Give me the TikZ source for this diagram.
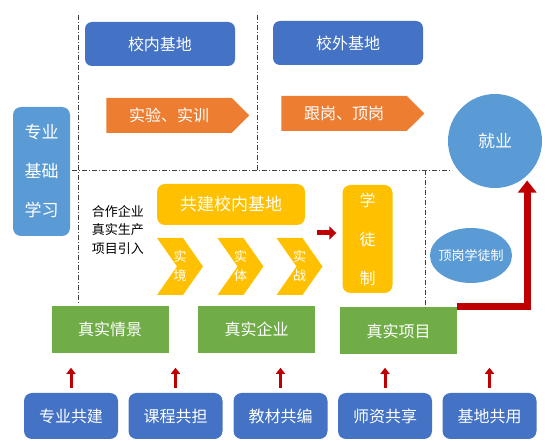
\documentclass[tikz,border=0pt]{standalone}
\usepackage{fontspec}
\setmainfont{Noto Sans CJK SC}
\usepackage{xcolor}
\usepackage{tikz}
\usetikzlibrary{shapes.symbols,shapes.geometric,arrows.meta}
\definecolor{dblue}{HTML}{4472C4}
\definecolor{lblue}{HTML}{5B9BD5}
\definecolor{orng}{HTML}{ED7D31}
\definecolor{ylw}{HTML}{FFC000}
\definecolor{grn}{HTML}{70AD47}
\definecolor{dred}{HTML}{C00000}
\tikzstyle{base} = [rectangle, rounded corners=7pt, minimum width=150pt, minimum height=44pt, text centered, fill=dblue, text=white, font=\fontsize{16}{19}\selectfont]
\tikzstyle{flow} = [signal, signal to=east, signal pointer angle=90, minimum width=143pt, minimum height=35pt, fill=orng, text=white, font=\fontsize{16}{19}\selectfont]
\tikzstyle{study} = [rectangle, rounded corners=8pt, minimum width=57pt, minimum height=129pt, align=center, fill=lblue, text=white, font=\fontsize{17}{39}\selectfont]
\tikzstyle{goal} = [circle, minimum size=94pt, fill=lblue, text=white, font=\fontsize{17}{20}\selectfont]
\tikzstyle{cobuild} = [rectangle, rounded corners=8pt, minimum width=148pt, minimum height=41pt, fill=ylw, text=white, font=\fontsize{17}{20}\selectfont]
\tikzstyle{chev} = [signal, signal to=east, signal from=west, signal pointer angle=110, minimum height=57pt, inner xsep=-3.5pt, inner ysep=0pt, align=center, fill=ylw, text=white, font=\fontsize{13}{19}\selectfont]
\tikzstyle{appr} = [rectangle, rounded corners=8pt, minimum width=50pt, minimum height=108pt, align=center, fill=ylw, text=white, font=\fontsize{16}{39}\selectfont]
\tikzstyle{oval} = [ellipse, minimum width=82pt, minimum height=55pt, inner xsep=-4pt, fill=lblue, text=white, font=\fontsize{13}{16}\selectfont]
\tikzstyle{real} = [rectangle, minimum width=117pt, minimum height=47pt, fill=grn, text=white, font=\fontsize{16}{19}\selectfont]
\tikzstyle{share} = [rectangle, rounded corners=8pt, minimum width=94pt, minimum height=46pt, fill=dblue, text=white, font=\fontsize{16}{19}\selectfont]
\tikzstyle{divider} = [black!75, line width=0.8pt, dash pattern=on 5pt off 2pt on 1pt off 2pt]
\tikzstyle{arrow} = [dred, line width=3pt, -{Triangle[width=9pt,length=6pt]}]
\tikzstyle{midarrow} = [dred, line width=5pt, -{Triangle[width=13pt,length=7pt]}]
\tikzstyle{bigarrow} = [dred, line width=7pt, -{Triangle[width=18pt,length=12pt]}]

\begin{document}
\begin{tikzpicture}[x=1pt, y=-1pt]
        \useasboundingbox (0,0) rectangle (550,441);
        % dividers
        \draw [divider] (78,15) -- (78,304);
        \draw [divider] (257,15) -- (257,170);
        \draw [divider] (72,170) -- (452,170);
        \draw [divider] (425,170) -- (425,305);
        % top part
        \node (base1) [base] at (160,44) {校内基地};
        \node (base2) [base] at (348,43) {校外基地};
        \node (flow1) [flow] at (169,115.5) {实验、实训};
        \node (flow2) [flow] at (344,113.5) {跟岗、顶岗};
        \node (study) [study] at (41.5,171.5) {专业\\基础\\学习};
        \node (jiuye) [goal] at (495,141) {就业};
        % middle part
        \node (intro) [align=center, font=\fontsize{13}{18.5}\selectfont] at (118,230) {合作企业\\真实生产\\项目引入};
        \node (cobuild) [cobuild] at (231,204.5) {共建校内基地};
        \node (chev1) [chev] at (180,266.5) {实\\境};
        \node (chev2) [chev] at (240.5,266.5) {实\\体};
        \node (chev3) [chev] at (299.5,266.5) {实\\战};
        \node (xtz) [appr] at (367.5,239) {学\\徒\\制};
        \node (dgxtz) [oval] at (471,255.5) {顶岗学徒制};
        % real
        \node (real1) [real] at (110,329.5) {真实情景};
        \node (real2) [real] at (256.5,329.5) {真实企业};
        \node (real3) [real] at (398.5,331) {真实项目};
        % shared
        \node (share1) [share] at (71,416) {专业共建};
        \node (share2) [share] at (175.5,416) {课程共担};
        \node (share3) [share] at (280.5,416) {教材共编};
        \node (share4) [share] at (385,416) {师资共享};
        \node (share5) [share] at (489.5,416) {基地共用};
        \draw [arrow] ([yshift=5pt]share1.north) -- ([yshift=25pt]share1.north);
        \draw [arrow] ([yshift=5pt]share2.north) -- ([yshift=25pt]share2.north);
        \draw [arrow] ([yshift=5pt]share3.north) -- ([yshift=25pt]share3.north);
        \draw [arrow] ([yshift=5pt]share4.north) -- ([yshift=25pt]share4.north);
        \draw [arrow] ([yshift=5pt]share5.north) -- ([yshift=25pt]share5.north);
        \draw [midarrow] ([xshift=-25pt,yshift=6pt]xtz.west) -- ([xshift=-6pt,yshift=6pt]xtz.west);
        \draw [bigarrow, shorten >=5pt] ([yshift=1pt]real3.north east) -| (jiuye.-47);
\end{tikzpicture}
\end{document}
